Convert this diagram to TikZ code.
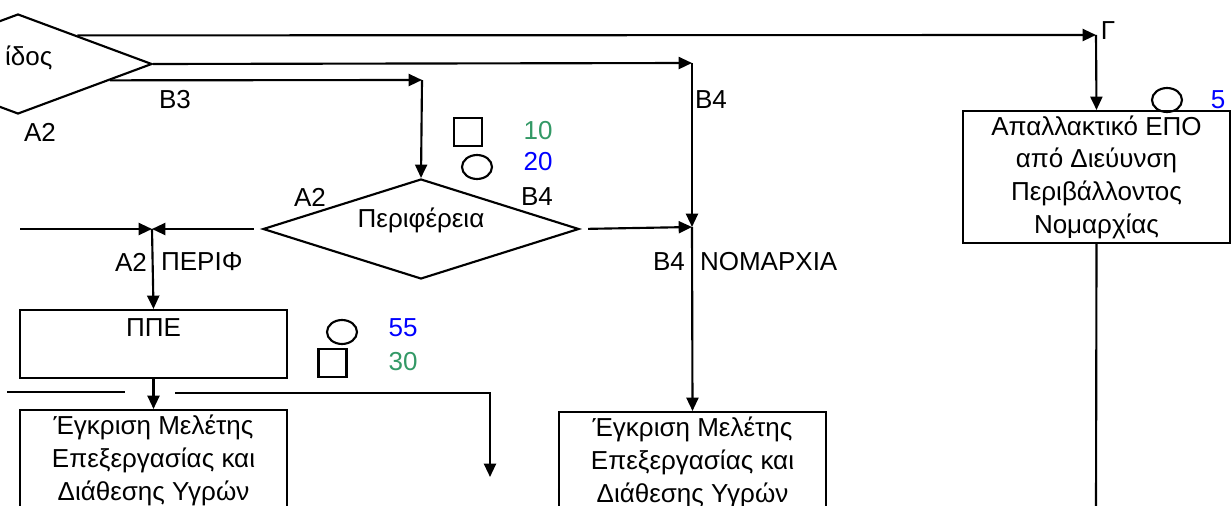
\documentclass[tikz,border=0pt]{standalone}
\usepackage{fontspec}
\setmainfont{Liberation Sans}
\usetikzlibrary{arrows.meta,shapes.geometric,calc}
\definecolor{numgreen}{RGB}{51,153,102}
\definecolor{numblue}{RGB}{0,0,255}
\tikzset{every picture/.style={line width=1.6pt}}

\begin{document}
\begin{tikzpicture}[x=0.75pt,y=0.75pt,yscale=-1,xscale=1,
  font=\fontsize{19.5}{24.5}\selectfont,
  flow/.style={-{Triangle[length=10pt,width=9pt]}},
  procbox/.style={draw,rectangle,minimum width=200.25pt,inner xsep=0pt,align=center},
  decide/.style={draw,diamond,inner sep=0pt},
  txt/.style={inner sep=0pt},
  sqmark/.style={draw,rectangle,minimum size=21pt,inner sep=0pt},
  ovmark/.style={draw,ellipse,minimum width=22.5pt,minimum height=18pt,inner sep=0pt}]
\useasboundingbox (0,0) rectangle (1231,506);
\clip (0,0) rectangle (1231,506);

%Shape: Diamond [kind, cut off on the left]
\node[decide,minimum width=201pt,minimum height=75pt] (kind) at (18,64) {};
\node[txt,anchor=west] (kindtxt) at (4,58) {ίδος};
%Shape: Diamond [per]
\node[decide,minimum width=237pt,minimum height=75pt] (per) at (421,229) {};
\node[txt] (pertxt) at (421,220) {Περιφέρεια};

%Shape: Rectangle [ppe]
\node[procbox,minimum height=51pt] (ppe) at (153.5,344) {ΠΠΕ\\\mbox{}};
%Shape: Rectangle [egk1]
\node[procbox,anchor=north,inner ysep=4pt] (egk1) at (153.5,409) {Έγκριση Μελέτης\\Επεξεργασίας και\\Διάθεσης Υγρών\\\mbox{}};
%Shape: Rectangle [egk2]
\node[procbox,anchor=north,inner ysep=4pt] (egk2) at (692.5,411) {Έγκριση Μελέτης\\Επεξεργασίας και\\Διάθεσης Υγρών\\\mbox{}};
%Shape: Rectangle [epo]
\node[procbox,minimum height=97.5pt] (epo) at (1096.5,177) {Απαλλακτικό ΕΠΟ\\από Διεύυνση\\Περιβάλλοντος\\Νομαρχίας};

% Junctions
\coordinate (gam) at (1096,35);
\coordinate (bfour) at (692,63);
\coordinate (bthree) at (422,80);
\coordinate (nomjoin) at (692,227);
\coordinate (perjoin) at (152,229);
\coordinate (leftin) at (20,229);
\coordinate (ppeleft) at (7,392);
\coordinate (ppegap) at (125,392);
\coordinate (ppeout) at (175,393);
\coordinate (ppecorner) at (490,393);
\coordinate (ppedown) at (490,477);
\coordinate (epoout) at (1096,510);

%Lines [flow]
\draw[flow] ($(kind.north)!0.44!(kind.east)$ |- gam) -- (gam);
\draw[flow] (gam) -- (epo.north);
\draw (epo.south) -- (epoout);
\draw[flow] (kind.east) -- (bfour);
\draw[flow] (bfour) -- (nomjoin);
\draw[flow] (nomjoin) -- (egk2.north);
\draw[flow] ($(kind.south)!0.68!(kind.east)$ |- bthree) -- (bthree);
\draw[flow] (bthree) -- (per.north);
\draw[flow] (leftin) -- (perjoin);
\draw[flow,shorten <=6pt] (per.west) -- (perjoin);
\draw[flow,shorten <=6pt] (per.east) -- (nomjoin);
\draw[flow] (perjoin) -- (ppe.north);
\draw[flow] (ppe.south) -- (egk1.north);
\draw (ppeleft) -- (ppegap);
\draw[flow] (ppeout) -- (ppecorner) -- (ppedown);

%Shape: marks
\node[sqmark] (sqper) at (468,132) {};
\node[ovmark] (ovper) at (477,167) {};
\node[ovmark] (ovppe) at (342,332) {};
\node[sqmark] (sqppe) at (332.5,363) {};
\node[ovmark] (ovepo) at (1167,100) {};

% Text Node
\node[txt] (lbthree) at (175,100) {Β3};
% Text Node
\node[txt] (lakind) at (40,132) {Α2};
% Text Node
\node[txt] (lbfour) at (711,100) {Β4};
% Text Node
\node[txt] (laper) at (310,197) {Α2};
% Text Node
\node[txt] (lbper) at (537,197) {Β4};
% Text Node
\node[txt,text=numgreen] (tenper) at (538,131) {10};
% Text Node
\node[txt,text=numblue] (twentyper) at (538,162) {20};
% Text Node
\node[txt,anchor=east] (lbnom) at (686,262) {Β4};
% Text Node
\node[txt,anchor=west] (lnom) at (699,262) {ΝΟΜΑΡΧΙΑ};
% Text Node
\node[txt,anchor=east] (laperif) at (148,262) {Α2};
% Text Node
\node[txt,anchor=west] (lperif) at (160,262) {ΠΕΡΙΦ};
% Text Node
\node[txt,text=numblue] (fiftyfive) at (403,328) {55};
% Text Node
\node[txt,text=numgreen] (thirty) at (403,362) {30};
% Text Node
\node[txt] (lgam) at (1108,31) {Γ};
% Text Node
\node[txt,text=numblue] (five) at (1218,100) {5};

\end{tikzpicture}
\end{document}
